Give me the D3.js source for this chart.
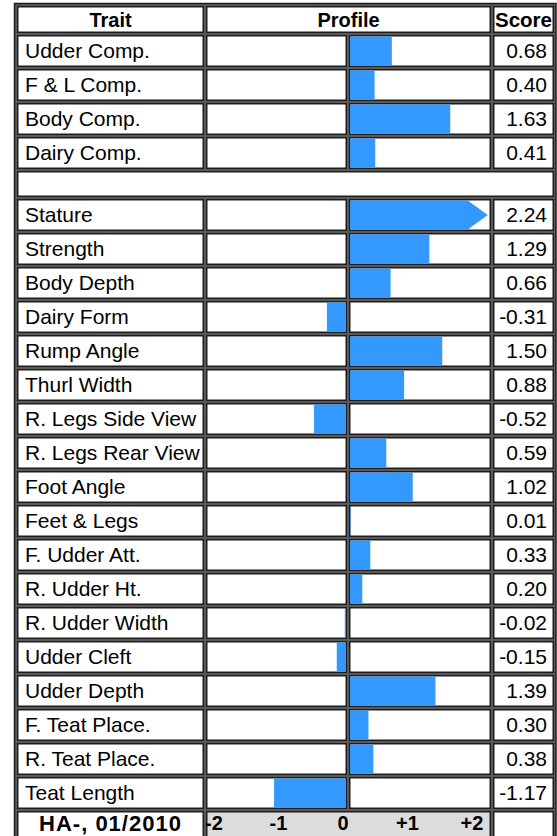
<!DOCTYPE html>
<html>
<head>
<meta charset="utf-8">
<script src="https://cdn.jsdelivr.net/npm/d3@7"></script>
<style>
  html, body { margin: 0; padding: 0; background: #fff; }
  svg { display: block; }
  text { font-family: "Liberation Sans", Arial, Helvetica, sans-serif; }
</style>
</head>
<body>
<svg id="chart" width="557" height="836"></svg>
<script>
// ---- data ----
const headers = ["Trait", "Profile", "Score"];
const compTraits = ["Udder Comp.", "F & L Comp.", "Body Comp.", "Dairy Comp."];
const compScores = [0.68, 0.40, 1.63, 0.41];
const linearTraits = ["Stature", "Strength", "Body Depth", "Dairy Form", "Rump Angle",
  "Thurl Width", "R. Legs Side View", "R. Legs Rear View", "Foot Angle", "Feet & Legs",
  "F. Udder Att.", "R. Udder Ht.", "R. Udder Width", "Udder Cleft", "Udder Depth",
  "F. Teat Place.", "R. Teat Place.", "Teat Length"];
const linearScores = [2.24, 1.29, 0.66, -0.31, 1.50, 0.88, -0.52, 0.59, 1.02, 0.01,
  0.33, 0.20, -0.02, -0.15, 1.39, 0.30, 0.38, -1.17];
const tickLabels = ["-2", "-1", "0", "+1", "+2"];
const footerLabel = "HA-, 01/2010";

// ---- layout ----
const svg = d3.select("#chart");
const BAR = "#3399ff";
const LINE = "#1e1e1e";
const col = {
  trait: [17, 204],
  profL: [206, 347],
  profR: [349, 491],
  score: [493, 554]
};
const ROW_H = 32, GAP = 2;

const rows = [];
let y = 6;
rows.push({type: "header", y: y, h: 27}); y += 27 + GAP;
compTraits.forEach((t, i) => { rows.push({type: "data", name: t, v: compScores[i], y: y, h: ROW_H}); y += ROW_H + GAP; });
rows.push({type: "blank", y: y, h: 26}); y += 26 + GAP;
linearTraits.forEach((t, i) => { rows.push({type: "data", name: t, v: linearScores[i], y: y, h: ROW_H}); y += ROW_H + GAP; });
rows.push({type: "footer", y: y, h: ROW_H});

// scales
const xPos = d3.scaleLinear().domain([0, 2]).range([col.profR[0] + 1, 473]);
const xNeg = d3.scaleLinear().domain([-2, 0]).range([223, col.profL[1] - 1]);
const xTick = d3.scalePoint().domain(tickLabels).range([214, 472]);
const fmt = v => d3.format(".2f")(v).replace("\u2212", "-");

// table background
svg.append("rect")
  .attr("x", 14.5).attr("y", 3.5)
  .attr("width", 556 - 14.5).attr("height", 900)
  .attr("fill", "#5a5a5a").attr("stroke", LINE).attr("stroke-width", 1.5);

function cell(x0, x1, y0, h, fill) {
  svg.append("rect")
    .attr("x", x0 + 0.75).attr("y", y0 + 0.75)
    .attr("width", x1 - x0 - 1.5).attr("height", h - 1.5)
    .attr("fill", fill || "#fff").attr("stroke", LINE).attr("stroke-width", 1.5);
}
function txt(x, y, s, opts) {
  opts = opts || {};
  return svg.append("text")
    .attr("x", x).attr("y", y)
    .attr("text-anchor", opts.anchor || "start")
    .attr("font-size", opts.size || 21)
    .attr("font-weight", opts.bold ? "bold" : "normal")
    .attr("letter-spacing", opts.ls || 0)
    .attr("fill", "#000")
    .text(s);
}

rows.forEach(r => {
  const mid = r.y + r.h / 2;
  if (r.type === "header") {
    cell(col.trait[0], col.trait[1], r.y, r.h);
    cell(col.profL[0], col.profR[1], r.y, r.h);
    cell(col.score[0], col.score[1], r.y, r.h);
    txt((col.trait[0] + col.trait[1]) / 2, mid + 7, headers[0], {anchor: "middle", bold: true, size: 20});
    txt((col.profL[0] + col.profR[1]) / 2, mid + 7, headers[1], {anchor: "middle", bold: true, size: 20});
    txt((col.score[0] + col.score[1]) / 2, mid + 7, headers[2], {anchor: "middle", bold: true, size: 20.5});
  } else if (r.type === "blank") {
    cell(col.trait[0], col.score[1], r.y, r.h);
  } else if (r.type === "data") {
    cell(col.trait[0], col.trait[1], r.y, r.h);
    cell(col.profL[0], col.profL[1], r.y, r.h);
    cell(col.profR[0], col.profR[1], r.y, r.h);
    cell(col.score[0], col.score[1], r.y, r.h);
    const top = r.y + 1.5, bot = r.y + r.h - 1.5;
    if (r.v >= 0) {
      const x0 = xPos(0), x1 = xPos(r.v);
      if (r.v > 2) {
        const xa = x1 - 20;
        svg.append("path")
          .attr("d", `M${x0},${top}L${xa},${top}L${x1},${(top + bot) / 2}L${xa},${bot}L${x0},${bot}Z`)
          .attr("fill", BAR);
      } else {
        svg.append("rect").attr("x", x0).attr("y", top)
          .attr("width", Math.max(0, x1 - x0)).attr("height", bot - top).attr("fill", BAR);
      }
    } else {
      const x0 = xNeg(r.v), x1 = xNeg(0);
      svg.append("rect").attr("x", x0).attr("y", top)
        .attr("width", x1 - x0).attr("height", bot - top).attr("fill", BAR);
    }
    txt(25, mid + 7, r.name);
    txt(col.score[1] - 7, mid + 7, fmt(r.v), {anchor: "end"});
  } else if (r.type === "footer") {
    cell(col.trait[0], col.trait[1], r.y, r.h);
    cell(col.profL[0], col.profR[1], r.y, r.h, "#dcdcdc");
    cell(col.score[0], col.score[1], r.y, r.h);
    txt((col.trait[0] + col.trait[1]) / 2, r.y + 20, footerLabel, {anchor: "middle", bold: true, size: 22, ls: 1});
    tickLabels.forEach(t => txt(xTick(t), r.y + 19, t, {anchor: "middle", bold: true, size: 20}));
  }
});
</script>
</body>
</html>
